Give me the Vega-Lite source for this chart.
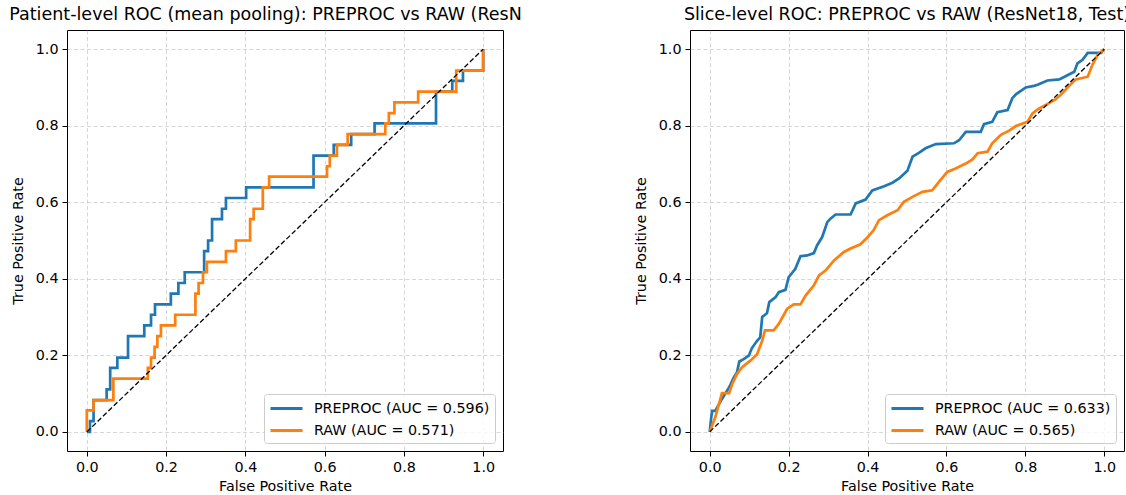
{
  "$schema": "https://vega.github.io/schema/vega-lite/v6.json",
  "padding": {"left": 8, "top": 5, "right": 0, "bottom": 0},
  "background": "white",
  "spacing": 187,
  "bounds": "flush",
  "datasets": {
    "patient": [
      {"series": "PREPROC (AUC = 0.596)", "i": 0, "fpr": 0, "tpr": 0},
      {"series": "PREPROC (AUC = 0.596)", "i": 1, "fpr": 0.008, "tpr": 0},
      {"series": "PREPROC (AUC = 0.596)", "i": 2, "fpr": 0.008, "tpr": 0.028},
      {"series": "PREPROC (AUC = 0.596)", "i": 3, "fpr": 0.017, "tpr": 0.028},
      {"series": "PREPROC (AUC = 0.596)", "i": 4, "fpr": 0.017, "tpr": 0.083},
      {"series": "PREPROC (AUC = 0.596)", "i": 5, "fpr": 0.05, "tpr": 0.083},
      {"series": "PREPROC (AUC = 0.596)", "i": 6, "fpr": 0.05, "tpr": 0.111},
      {"series": "PREPROC (AUC = 0.596)", "i": 7, "fpr": 0.059, "tpr": 0.111},
      {"series": "PREPROC (AUC = 0.596)", "i": 8, "fpr": 0.059, "tpr": 0.167},
      {"series": "PREPROC (AUC = 0.596)", "i": 9, "fpr": 0.077, "tpr": 0.167},
      {"series": "PREPROC (AUC = 0.596)", "i": 10, "fpr": 0.077, "tpr": 0.194},
      {"series": "PREPROC (AUC = 0.596)", "i": 11, "fpr": 0.104, "tpr": 0.194},
      {"series": "PREPROC (AUC = 0.596)", "i": 12, "fpr": 0.104, "tpr": 0.25},
      {"series": "PREPROC (AUC = 0.596)", "i": 13, "fpr": 0.145, "tpr": 0.25},
      {"series": "PREPROC (AUC = 0.596)", "i": 14, "fpr": 0.145, "tpr": 0.278},
      {"series": "PREPROC (AUC = 0.596)", "i": 15, "fpr": 0.162, "tpr": 0.278},
      {"series": "PREPROC (AUC = 0.596)", "i": 16, "fpr": 0.162, "tpr": 0.306},
      {"series": "PREPROC (AUC = 0.596)", "i": 17, "fpr": 0.172, "tpr": 0.306},
      {"series": "PREPROC (AUC = 0.596)", "i": 18, "fpr": 0.172, "tpr": 0.333},
      {"series": "PREPROC (AUC = 0.596)", "i": 19, "fpr": 0.212, "tpr": 0.333},
      {"series": "PREPROC (AUC = 0.596)", "i": 20, "fpr": 0.212, "tpr": 0.361},
      {"series": "PREPROC (AUC = 0.596)", "i": 21, "fpr": 0.231, "tpr": 0.361},
      {"series": "PREPROC (AUC = 0.596)", "i": 22, "fpr": 0.231, "tpr": 0.389},
      {"series": "PREPROC (AUC = 0.596)", "i": 23, "fpr": 0.247, "tpr": 0.389},
      {"series": "PREPROC (AUC = 0.596)", "i": 24, "fpr": 0.247, "tpr": 0.417},
      {"series": "PREPROC (AUC = 0.596)", "i": 25, "fpr": 0.296, "tpr": 0.417},
      {"series": "PREPROC (AUC = 0.596)", "i": 26, "fpr": 0.296, "tpr": 0.472},
      {"series": "PREPROC (AUC = 0.596)", "i": 27, "fpr": 0.306, "tpr": 0.472},
      {"series": "PREPROC (AUC = 0.596)", "i": 28, "fpr": 0.306, "tpr": 0.5},
      {"series": "PREPROC (AUC = 0.596)", "i": 29, "fpr": 0.316, "tpr": 0.5},
      {"series": "PREPROC (AUC = 0.596)", "i": 30, "fpr": 0.316, "tpr": 0.556},
      {"series": "PREPROC (AUC = 0.596)", "i": 31, "fpr": 0.341, "tpr": 0.556},
      {"series": "PREPROC (AUC = 0.596)", "i": 32, "fpr": 0.341, "tpr": 0.583},
      {"series": "PREPROC (AUC = 0.596)", "i": 33, "fpr": 0.351, "tpr": 0.583},
      {"series": "PREPROC (AUC = 0.596)", "i": 34, "fpr": 0.351, "tpr": 0.611},
      {"series": "PREPROC (AUC = 0.596)", "i": 35, "fpr": 0.402, "tpr": 0.611},
      {"series": "PREPROC (AUC = 0.596)", "i": 36, "fpr": 0.402, "tpr": 0.639},
      {"series": "PREPROC (AUC = 0.596)", "i": 37, "fpr": 0.572, "tpr": 0.639},
      {"series": "PREPROC (AUC = 0.596)", "i": 38, "fpr": 0.572, "tpr": 0.722},
      {"series": "PREPROC (AUC = 0.596)", "i": 39, "fpr": 0.623, "tpr": 0.722},
      {"series": "PREPROC (AUC = 0.596)", "i": 40, "fpr": 0.623, "tpr": 0.75},
      {"series": "PREPROC (AUC = 0.596)", "i": 41, "fpr": 0.667, "tpr": 0.75},
      {"series": "PREPROC (AUC = 0.596)", "i": 42, "fpr": 0.667, "tpr": 0.778},
      {"series": "PREPROC (AUC = 0.596)", "i": 43, "fpr": 0.726, "tpr": 0.778},
      {"series": "PREPROC (AUC = 0.596)", "i": 44, "fpr": 0.726, "tpr": 0.806},
      {"series": "PREPROC (AUC = 0.596)", "i": 45, "fpr": 0.881, "tpr": 0.806},
      {"series": "PREPROC (AUC = 0.596)", "i": 46, "fpr": 0.881, "tpr": 0.889},
      {"series": "PREPROC (AUC = 0.596)", "i": 47, "fpr": 0.922, "tpr": 0.889},
      {"series": "PREPROC (AUC = 0.596)", "i": 48, "fpr": 0.922, "tpr": 0.917},
      {"series": "PREPROC (AUC = 0.596)", "i": 49, "fpr": 0.949, "tpr": 0.917},
      {"series": "PREPROC (AUC = 0.596)", "i": 50, "fpr": 0.949, "tpr": 0.944},
      {"series": "PREPROC (AUC = 0.596)", "i": 51, "fpr": 1.0, "tpr": 0.944},
      {"series": "PREPROC (AUC = 0.596)", "i": 52, "fpr": 1.0, "tpr": 1.0},
      {"series": "RAW (AUC = 0.571)", "i": 0, "fpr": 0, "tpr": 0},
      {"series": "RAW (AUC = 0.571)", "i": 1, "fpr": 0, "tpr": 0.056},
      {"series": "RAW (AUC = 0.571)", "i": 2, "fpr": 0.017, "tpr": 0.056},
      {"series": "RAW (AUC = 0.571)", "i": 3, "fpr": 0.017, "tpr": 0.083},
      {"series": "RAW (AUC = 0.571)", "i": 4, "fpr": 0.067, "tpr": 0.083},
      {"series": "RAW (AUC = 0.571)", "i": 5, "fpr": 0.067, "tpr": 0.139},
      {"series": "RAW (AUC = 0.571)", "i": 6, "fpr": 0.154, "tpr": 0.139},
      {"series": "RAW (AUC = 0.571)", "i": 7, "fpr": 0.154, "tpr": 0.167},
      {"series": "RAW (AUC = 0.571)", "i": 8, "fpr": 0.162, "tpr": 0.167},
      {"series": "RAW (AUC = 0.571)", "i": 9, "fpr": 0.162, "tpr": 0.194},
      {"series": "RAW (AUC = 0.571)", "i": 10, "fpr": 0.171, "tpr": 0.194},
      {"series": "RAW (AUC = 0.571)", "i": 11, "fpr": 0.171, "tpr": 0.222},
      {"series": "RAW (AUC = 0.571)", "i": 12, "fpr": 0.178, "tpr": 0.222},
      {"series": "RAW (AUC = 0.571)", "i": 13, "fpr": 0.178, "tpr": 0.25},
      {"series": "RAW (AUC = 0.571)", "i": 14, "fpr": 0.187, "tpr": 0.25},
      {"series": "RAW (AUC = 0.571)", "i": 15, "fpr": 0.187, "tpr": 0.278},
      {"series": "RAW (AUC = 0.571)", "i": 16, "fpr": 0.223, "tpr": 0.278},
      {"series": "RAW (AUC = 0.571)", "i": 17, "fpr": 0.223, "tpr": 0.306},
      {"series": "RAW (AUC = 0.571)", "i": 18, "fpr": 0.274, "tpr": 0.306},
      {"series": "RAW (AUC = 0.571)", "i": 19, "fpr": 0.274, "tpr": 0.361},
      {"series": "RAW (AUC = 0.571)", "i": 20, "fpr": 0.282, "tpr": 0.361},
      {"series": "RAW (AUC = 0.571)", "i": 21, "fpr": 0.282, "tpr": 0.389},
      {"series": "RAW (AUC = 0.571)", "i": 22, "fpr": 0.293, "tpr": 0.389},
      {"series": "RAW (AUC = 0.571)", "i": 23, "fpr": 0.293, "tpr": 0.417},
      {"series": "RAW (AUC = 0.571)", "i": 24, "fpr": 0.303, "tpr": 0.417},
      {"series": "RAW (AUC = 0.571)", "i": 25, "fpr": 0.303, "tpr": 0.444},
      {"series": "RAW (AUC = 0.571)", "i": 26, "fpr": 0.351, "tpr": 0.444},
      {"series": "RAW (AUC = 0.571)", "i": 27, "fpr": 0.351, "tpr": 0.472},
      {"series": "RAW (AUC = 0.571)", "i": 28, "fpr": 0.376, "tpr": 0.472},
      {"series": "RAW (AUC = 0.571)", "i": 29, "fpr": 0.376, "tpr": 0.5},
      {"series": "RAW (AUC = 0.571)", "i": 30, "fpr": 0.412, "tpr": 0.5},
      {"series": "RAW (AUC = 0.571)", "i": 31, "fpr": 0.412, "tpr": 0.556},
      {"series": "RAW (AUC = 0.571)", "i": 32, "fpr": 0.421, "tpr": 0.556},
      {"series": "RAW (AUC = 0.571)", "i": 33, "fpr": 0.421, "tpr": 0.583},
      {"series": "RAW (AUC = 0.571)", "i": 34, "fpr": 0.444, "tpr": 0.583},
      {"series": "RAW (AUC = 0.571)", "i": 35, "fpr": 0.444, "tpr": 0.639},
      {"series": "RAW (AUC = 0.571)", "i": 36, "fpr": 0.46, "tpr": 0.639},
      {"series": "RAW (AUC = 0.571)", "i": 37, "fpr": 0.46, "tpr": 0.667},
      {"series": "RAW (AUC = 0.571)", "i": 38, "fpr": 0.606, "tpr": 0.667},
      {"series": "RAW (AUC = 0.571)", "i": 39, "fpr": 0.606, "tpr": 0.694},
      {"series": "RAW (AUC = 0.571)", "i": 40, "fpr": 0.613, "tpr": 0.694},
      {"series": "RAW (AUC = 0.571)", "i": 41, "fpr": 0.613, "tpr": 0.722},
      {"series": "RAW (AUC = 0.571)", "i": 42, "fpr": 0.631, "tpr": 0.722},
      {"series": "RAW (AUC = 0.571)", "i": 43, "fpr": 0.631, "tpr": 0.75},
      {"series": "RAW (AUC = 0.571)", "i": 44, "fpr": 0.658, "tpr": 0.75},
      {"series": "RAW (AUC = 0.571)", "i": 45, "fpr": 0.658, "tpr": 0.778},
      {"series": "RAW (AUC = 0.571)", "i": 46, "fpr": 0.753, "tpr": 0.778},
      {"series": "RAW (AUC = 0.571)", "i": 47, "fpr": 0.753, "tpr": 0.806},
      {"series": "RAW (AUC = 0.571)", "i": 48, "fpr": 0.762, "tpr": 0.806},
      {"series": "RAW (AUC = 0.571)", "i": 49, "fpr": 0.762, "tpr": 0.833},
      {"series": "RAW (AUC = 0.571)", "i": 50, "fpr": 0.776, "tpr": 0.833},
      {"series": "RAW (AUC = 0.571)", "i": 51, "fpr": 0.776, "tpr": 0.861},
      {"series": "RAW (AUC = 0.571)", "i": 52, "fpr": 0.836, "tpr": 0.861},
      {"series": "RAW (AUC = 0.571)", "i": 53, "fpr": 0.836, "tpr": 0.889},
      {"series": "RAW (AUC = 0.571)", "i": 54, "fpr": 0.932, "tpr": 0.889},
      {"series": "RAW (AUC = 0.571)", "i": 55, "fpr": 0.932, "tpr": 0.944},
      {"series": "RAW (AUC = 0.571)", "i": 56, "fpr": 1.0, "tpr": 0.944},
      {"series": "RAW (AUC = 0.571)", "i": 57, "fpr": 1.0, "tpr": 1.0}
    ],
    "slice": [
      {"series": "PREPROC (AUC = 0.633)", "i": 0, "fpr": 0, "tpr": 0},
      {"series": "PREPROC (AUC = 0.633)", "i": 1, "fpr": 0.003, "tpr": 0.03},
      {"series": "PREPROC (AUC = 0.633)", "i": 2, "fpr": 0.006, "tpr": 0.055},
      {"series": "PREPROC (AUC = 0.633)", "i": 3, "fpr": 0.014, "tpr": 0.055},
      {"series": "PREPROC (AUC = 0.633)", "i": 4, "fpr": 0.031, "tpr": 0.086},
      {"series": "PREPROC (AUC = 0.633)", "i": 5, "fpr": 0.049, "tpr": 0.116},
      {"series": "PREPROC (AUC = 0.633)", "i": 6, "fpr": 0.061, "tpr": 0.142},
      {"series": "PREPROC (AUC = 0.633)", "i": 7, "fpr": 0.069, "tpr": 0.155},
      {"series": "PREPROC (AUC = 0.633)", "i": 8, "fpr": 0.075, "tpr": 0.184},
      {"series": "PREPROC (AUC = 0.633)", "i": 9, "fpr": 0.086, "tpr": 0.19},
      {"series": "PREPROC (AUC = 0.633)", "i": 10, "fpr": 0.099, "tpr": 0.199},
      {"series": "PREPROC (AUC = 0.633)", "i": 11, "fpr": 0.107, "tpr": 0.219},
      {"series": "PREPROC (AUC = 0.633)", "i": 12, "fpr": 0.12, "tpr": 0.238},
      {"series": "PREPROC (AUC = 0.633)", "i": 13, "fpr": 0.128, "tpr": 0.247},
      {"series": "PREPROC (AUC = 0.633)", "i": 14, "fpr": 0.133, "tpr": 0.3},
      {"series": "PREPROC (AUC = 0.633)", "i": 15, "fpr": 0.145, "tpr": 0.31},
      {"series": "PREPROC (AUC = 0.633)", "i": 16, "fpr": 0.151, "tpr": 0.339},
      {"series": "PREPROC (AUC = 0.633)", "i": 17, "fpr": 0.167, "tpr": 0.352},
      {"series": "PREPROC (AUC = 0.633)", "i": 18, "fpr": 0.175, "tpr": 0.365},
      {"series": "PREPROC (AUC = 0.633)", "i": 19, "fpr": 0.192, "tpr": 0.371},
      {"series": "PREPROC (AUC = 0.633)", "i": 20, "fpr": 0.2, "tpr": 0.404},
      {"series": "PREPROC (AUC = 0.633)", "i": 21, "fpr": 0.217, "tpr": 0.426},
      {"series": "PREPROC (AUC = 0.633)", "i": 22, "fpr": 0.23, "tpr": 0.459},
      {"series": "PREPROC (AUC = 0.633)", "i": 23, "fpr": 0.247, "tpr": 0.461},
      {"series": "PREPROC (AUC = 0.633)", "i": 24, "fpr": 0.264, "tpr": 0.467},
      {"series": "PREPROC (AUC = 0.633)", "i": 25, "fpr": 0.272, "tpr": 0.487},
      {"series": "PREPROC (AUC = 0.633)", "i": 26, "fpr": 0.285, "tpr": 0.509},
      {"series": "PREPROC (AUC = 0.633)", "i": 27, "fpr": 0.298, "tpr": 0.548},
      {"series": "PREPROC (AUC = 0.633)", "i": 28, "fpr": 0.306, "tpr": 0.557},
      {"series": "PREPROC (AUC = 0.633)", "i": 29, "fpr": 0.319, "tpr": 0.568},
      {"series": "PREPROC (AUC = 0.633)", "i": 30, "fpr": 0.357, "tpr": 0.568},
      {"series": "PREPROC (AUC = 0.633)", "i": 31, "fpr": 0.37, "tpr": 0.597},
      {"series": "PREPROC (AUC = 0.633)", "i": 32, "fpr": 0.395, "tpr": 0.607},
      {"series": "PREPROC (AUC = 0.633)", "i": 33, "fpr": 0.412, "tpr": 0.631},
      {"series": "PREPROC (AUC = 0.633)", "i": 34, "fpr": 0.442, "tpr": 0.642},
      {"series": "PREPROC (AUC = 0.633)", "i": 35, "fpr": 0.463, "tpr": 0.651},
      {"series": "PREPROC (AUC = 0.633)", "i": 36, "fpr": 0.48, "tpr": 0.662},
      {"series": "PREPROC (AUC = 0.633)", "i": 37, "fpr": 0.501, "tpr": 0.682},
      {"series": "PREPROC (AUC = 0.633)", "i": 38, "fpr": 0.514, "tpr": 0.719},
      {"series": "PREPROC (AUC = 0.633)", "i": 39, "fpr": 0.53, "tpr": 0.729},
      {"series": "PREPROC (AUC = 0.633)", "i": 40, "fpr": 0.547, "tpr": 0.741},
      {"series": "PREPROC (AUC = 0.633)", "i": 41, "fpr": 0.573, "tpr": 0.752},
      {"series": "PREPROC (AUC = 0.633)", "i": 42, "fpr": 0.619, "tpr": 0.754},
      {"series": "PREPROC (AUC = 0.633)", "i": 43, "fpr": 0.632, "tpr": 0.762},
      {"series": "PREPROC (AUC = 0.633)", "i": 44, "fpr": 0.649, "tpr": 0.784},
      {"series": "PREPROC (AUC = 0.633)", "i": 45, "fpr": 0.687, "tpr": 0.784},
      {"series": "PREPROC (AUC = 0.633)", "i": 46, "fpr": 0.695, "tpr": 0.804},
      {"series": "PREPROC (AUC = 0.633)", "i": 47, "fpr": 0.716, "tpr": 0.81},
      {"series": "PREPROC (AUC = 0.633)", "i": 48, "fpr": 0.729, "tpr": 0.835},
      {"series": "PREPROC (AUC = 0.633)", "i": 49, "fpr": 0.755, "tpr": 0.841},
      {"series": "PREPROC (AUC = 0.633)", "i": 50, "fpr": 0.767, "tpr": 0.872},
      {"series": "PREPROC (AUC = 0.633)", "i": 51, "fpr": 0.776, "tpr": 0.882},
      {"series": "PREPROC (AUC = 0.633)", "i": 52, "fpr": 0.801, "tpr": 0.9},
      {"series": "PREPROC (AUC = 0.633)", "i": 53, "fpr": 0.822, "tpr": 0.904},
      {"series": "PREPROC (AUC = 0.633)", "i": 54, "fpr": 0.831, "tpr": 0.907},
      {"series": "PREPROC (AUC = 0.633)", "i": 55, "fpr": 0.856, "tpr": 0.918},
      {"series": "PREPROC (AUC = 0.633)", "i": 56, "fpr": 0.886, "tpr": 0.921},
      {"series": "PREPROC (AUC = 0.633)", "i": 57, "fpr": 0.903, "tpr": 0.93},
      {"series": "PREPROC (AUC = 0.633)", "i": 58, "fpr": 0.924, "tpr": 0.941},
      {"series": "PREPROC (AUC = 0.633)", "i": 59, "fpr": 0.932, "tpr": 0.963},
      {"series": "PREPROC (AUC = 0.633)", "i": 60, "fpr": 0.945, "tpr": 0.972},
      {"series": "PREPROC (AUC = 0.633)", "i": 61, "fpr": 0.958, "tpr": 0.99},
      {"series": "PREPROC (AUC = 0.633)", "i": 62, "fpr": 0.992, "tpr": 0.99},
      {"series": "PREPROC (AUC = 0.633)", "i": 63, "fpr": 1.0, "tpr": 1.0},
      {"series": "RAW (AUC = 0.565)", "i": 0, "fpr": 0, "tpr": 0},
      {"series": "RAW (AUC = 0.565)", "i": 1, "fpr": 0.014, "tpr": 0.038},
      {"series": "RAW (AUC = 0.565)", "i": 2, "fpr": 0.031, "tpr": 0.101},
      {"series": "RAW (AUC = 0.565)", "i": 3, "fpr": 0.049, "tpr": 0.101},
      {"series": "RAW (AUC = 0.565)", "i": 4, "fpr": 0.057, "tpr": 0.125},
      {"series": "RAW (AUC = 0.565)", "i": 5, "fpr": 0.069, "tpr": 0.151},
      {"series": "RAW (AUC = 0.565)", "i": 6, "fpr": 0.082, "tpr": 0.169},
      {"series": "RAW (AUC = 0.565)", "i": 7, "fpr": 0.103, "tpr": 0.186},
      {"series": "RAW (AUC = 0.565)", "i": 8, "fpr": 0.12, "tpr": 0.203},
      {"series": "RAW (AUC = 0.565)", "i": 9, "fpr": 0.133, "tpr": 0.238},
      {"series": "RAW (AUC = 0.565)", "i": 10, "fpr": 0.14, "tpr": 0.265},
      {"series": "RAW (AUC = 0.565)", "i": 11, "fpr": 0.162, "tpr": 0.265},
      {"series": "RAW (AUC = 0.565)", "i": 12, "fpr": 0.175, "tpr": 0.282},
      {"series": "RAW (AUC = 0.565)", "i": 13, "fpr": 0.196, "tpr": 0.321},
      {"series": "RAW (AUC = 0.565)", "i": 14, "fpr": 0.213, "tpr": 0.333},
      {"series": "RAW (AUC = 0.565)", "i": 15, "fpr": 0.23, "tpr": 0.333},
      {"series": "RAW (AUC = 0.565)", "i": 16, "fpr": 0.243, "tpr": 0.356},
      {"series": "RAW (AUC = 0.565)", "i": 17, "fpr": 0.264, "tpr": 0.383},
      {"series": "RAW (AUC = 0.565)", "i": 18, "fpr": 0.277, "tpr": 0.409},
      {"series": "RAW (AUC = 0.565)", "i": 19, "fpr": 0.294, "tpr": 0.422},
      {"series": "RAW (AUC = 0.565)", "i": 20, "fpr": 0.315, "tpr": 0.448},
      {"series": "RAW (AUC = 0.565)", "i": 21, "fpr": 0.34, "tpr": 0.47},
      {"series": "RAW (AUC = 0.565)", "i": 22, "fpr": 0.357, "tpr": 0.479},
      {"series": "RAW (AUC = 0.565)", "i": 23, "fpr": 0.382, "tpr": 0.49},
      {"series": "RAW (AUC = 0.565)", "i": 24, "fpr": 0.399, "tpr": 0.507},
      {"series": "RAW (AUC = 0.565)", "i": 25, "fpr": 0.416, "tpr": 0.528},
      {"series": "RAW (AUC = 0.565)", "i": 26, "fpr": 0.429, "tpr": 0.553},
      {"series": "RAW (AUC = 0.565)", "i": 27, "fpr": 0.45, "tpr": 0.566},
      {"series": "RAW (AUC = 0.565)", "i": 28, "fpr": 0.476, "tpr": 0.579},
      {"series": "RAW (AUC = 0.565)", "i": 29, "fpr": 0.492, "tpr": 0.601},
      {"series": "RAW (AUC = 0.565)", "i": 30, "fpr": 0.514, "tpr": 0.614},
      {"series": "RAW (AUC = 0.565)", "i": 31, "fpr": 0.539, "tpr": 0.627},
      {"series": "RAW (AUC = 0.565)", "i": 32, "fpr": 0.564, "tpr": 0.631},
      {"series": "RAW (AUC = 0.565)", "i": 33, "fpr": 0.581, "tpr": 0.653},
      {"series": "RAW (AUC = 0.565)", "i": 34, "fpr": 0.602, "tpr": 0.679},
      {"series": "RAW (AUC = 0.565)", "i": 35, "fpr": 0.623, "tpr": 0.688},
      {"series": "RAW (AUC = 0.565)", "i": 36, "fpr": 0.649, "tpr": 0.701},
      {"series": "RAW (AUC = 0.565)", "i": 37, "fpr": 0.666, "tpr": 0.712},
      {"series": "RAW (AUC = 0.565)", "i": 38, "fpr": 0.679, "tpr": 0.728},
      {"series": "RAW (AUC = 0.565)", "i": 39, "fpr": 0.704, "tpr": 0.732},
      {"series": "RAW (AUC = 0.565)", "i": 40, "fpr": 0.716, "tpr": 0.754},
      {"series": "RAW (AUC = 0.565)", "i": 41, "fpr": 0.738, "tpr": 0.776},
      {"series": "RAW (AUC = 0.565)", "i": 42, "fpr": 0.759, "tpr": 0.787},
      {"series": "RAW (AUC = 0.565)", "i": 43, "fpr": 0.776, "tpr": 0.799},
      {"series": "RAW (AUC = 0.565)", "i": 44, "fpr": 0.805, "tpr": 0.81},
      {"series": "RAW (AUC = 0.565)", "i": 45, "fpr": 0.818, "tpr": 0.832},
      {"series": "RAW (AUC = 0.565)", "i": 46, "fpr": 0.835, "tpr": 0.845},
      {"series": "RAW (AUC = 0.565)", "i": 47, "fpr": 0.86, "tpr": 0.859},
      {"series": "RAW (AUC = 0.565)", "i": 48, "fpr": 0.877, "tpr": 0.869},
      {"series": "RAW (AUC = 0.565)", "i": 49, "fpr": 0.894, "tpr": 0.885},
      {"series": "RAW (AUC = 0.565)", "i": 50, "fpr": 0.911, "tpr": 0.904},
      {"series": "RAW (AUC = 0.565)", "i": 51, "fpr": 0.928, "tpr": 0.921},
      {"series": "RAW (AUC = 0.565)", "i": 52, "fpr": 0.958, "tpr": 0.928},
      {"series": "RAW (AUC = 0.565)", "i": 53, "fpr": 0.97, "tpr": 0.959},
      {"series": "RAW (AUC = 0.565)", "i": 54, "fpr": 0.983, "tpr": 0.985},
      {"series": "RAW (AUC = 0.565)", "i": 55, "fpr": 1.0, "tpr": 1.0}
    ],
    "diag": [{"d": 0}, {"d": 1}]
  },
  "hconcat": [
    {
      "width": 436,
      "height": 421,
      "title": {"text": "Patient-level ROC (mean pooling): PREPROC vs RAW (ResN", "anchor": "start", "frame": "bounds", "dx": -2},
      "layer": [
        {
          "data": {"name": "patient"},
          "mark": {"type": "line", "strokeWidth": 2.7, "clip": true},
          "encoding": {
            "x": {"field": "fpr", "type": "quantitative", "title": "False Positive Rate", "scale": {"domain": [-0.05, 1.05], "nice": false, "zero": false}, "axis": {"values": [0, 0.2, 0.4, 0.6, 0.8, 1.0], "format": ".1f"}},
            "y": {"field": "tpr", "type": "quantitative", "title": "True Positive Rate", "scale": {"domain": [-0.05, 1.05], "nice": false, "zero": false}, "axis": {"values": [0, 0.2, 0.4, 0.6, 0.8, 1.0], "format": ".1f"}},
            "order": {"field": "i", "type": "quantitative"},
            "color": {"field": "series", "type": "nominal", "scale": {"domain": ["PREPROC (AUC = 0.596)", "RAW (AUC = 0.571)"], "range": ["#1f77b4", "#ff7f0e"]}, "legend": {"title": null, "orient": "bottom-right"}}
          }
        },
        {
          "data": {"name": "diag"},
          "mark": {"type": "line", "color": "black", "strokeWidth": 1.3, "strokeDash": [5, 2.5]},
          "encoding": {
            "x": {"field": "d", "type": "quantitative"},
            "y": {"field": "d", "type": "quantitative"}
          }
        }
      ]
    },
    {
      "width": 434,
      "height": 421,
      "title": {"text": "Slice-level ROC: PREPROC vs RAW (ResNet18, Test)", "anchor": "middle"},
      "layer": [
        {
          "data": {"name": "slice"},
          "mark": {"type": "line", "strokeWidth": 2.7, "clip": true},
          "encoding": {
            "x": {"field": "fpr", "type": "quantitative", "title": "False Positive Rate", "scale": {"domain": [-0.05, 1.05], "nice": false, "zero": false}, "axis": {"values": [0, 0.2, 0.4, 0.6, 0.8, 1.0], "format": ".1f"}},
            "y": {"field": "tpr", "type": "quantitative", "title": "True Positive Rate", "scale": {"domain": [-0.05, 1.05], "nice": false, "zero": false}, "axis": {"values": [0, 0.2, 0.4, 0.6, 0.8, 1.0], "format": ".1f"}},
            "order": {"field": "i", "type": "quantitative"},
            "color": {"field": "series", "type": "nominal", "scale": {"domain": ["PREPROC (AUC = 0.633)", "RAW (AUC = 0.565)"], "range": ["#1f77b4", "#ff7f0e"]}, "legend": {"title": null, "orient": "bottom-right"}}
          }
        },
        {
          "data": {"name": "diag"},
          "mark": {"type": "line", "color": "black", "strokeWidth": 1.3, "strokeDash": [5, 2.5]},
          "encoding": {
            "x": {"field": "d", "type": "quantitative"},
            "y": {"field": "d", "type": "quantitative"}
          }
        }
      ]
    }
  ],
  "resolve": {"scale": {"color": "independent", "x": "independent", "y": "independent"}, "legend": {"color": "independent"}},
  "config": {
    "font": "DejaVu Sans",
    "view": {"stroke": "black", "strokeWidth": 1},
    "axis": {
      "domain": false,
      "grid": true,
      "gridDash": [4, 2.5],
      "gridColor": "#b0b0b0",
      "gridOpacity": 0.5,
      "gridWidth": 1,
      "ticks": true,
      "tickColor": "black",
      "tickSize": 5,
      "tickWidth": 1,
      "labelFont": "DejaVu Sans",
      "labelFontSize": 14.3,
      "labelColor": "black",
      "labelPadding": 4,
      "titleFont": "DejaVu Sans",
      "titleFontSize": 14.3,
      "titleFontWeight": "normal",
      "titleColor": "black"
    },
    "axisX": {"titlePadding": 5},
    "axisY": {"titlePadding": 10},
    "title": {"font": "DejaVu Sans", "fontSize": 17.5, "fontWeight": "normal", "color": "black", "offset": 7},
    "legend": {
      "offset": 8,
      "padding": 5,
      "strokeColor": "#cccccc",
      "fillColor": "rgba(255,255,255,0.8)",
      "cornerRadius": 3,
      "labelFont": "DejaVu Sans",
      "labelFontSize": 14.3,
      "labelColor": "black",
      "labelLimit": 0,
      "symbolType": "M-1,0H3",
      "symbolSize": 256,
      "symbolStrokeWidth": 2.8,
      "labelOffset": 26,
      "rowPadding": 5
    }
  }
}
